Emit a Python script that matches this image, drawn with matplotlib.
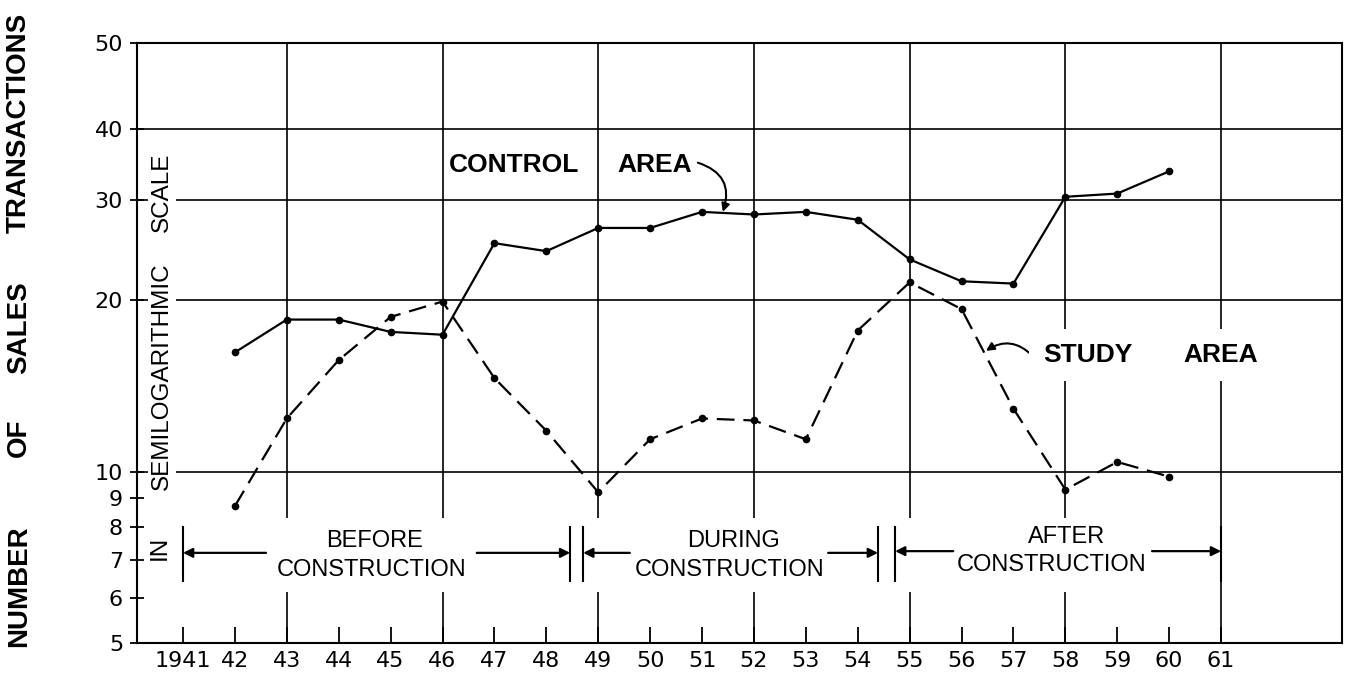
import numpy as np
import matplotlib.pyplot as plt
from matplotlib.ticker import FixedLocator, FixedFormatter, NullLocator

# sales transactions, 1942-1960
years = np.arange(1942, 1961)
control = [16.2, 18.5, 18.5, 17.6, 17.4, 25.2, 24.4, 26.8, 26.8, 28.6,
           28.3, 28.6, 27.7, 23.6, 21.6, 21.4, 30.4, 30.8, 33.7]
study = [8.7, 12.4, 15.7, 18.7, 19.9, 14.6, 11.8, 9.2, 11.4, 12.4,
         12.3, 11.4, 17.7, 21.5, 19.3, 12.9, 9.3, 10.4, 9.8]

tick_years = list(range(1941, 1962))
tick_labels = ["1941"] + [str(y)[2:] for y in tick_years[1:]]
y_ticks = [5, 6, 7, 8, 9, 10, 20, 30, 40, 50]
grid_years = [1943, 1946, 1949, 1952, 1955, 1958]
grid_values = [10, 20, 30, 40]

# construction periods
period_words = ["BEFORE", "DURING", "AFTER"]
period_left = [1941.0, 1948.71, 1954.72]
period_right = [1948.46, 1954.39, 1961.0]
tail_left = [1942.6, 1949.61, 1955.84]
tail_right = [1946.66, 1953.43, 1959.67]
word_x = [1944.70, 1951.60, 1958.03]
constr_x = [1944.64, 1951.54, 1957.74]
word_y = [7.55, 7.55, 7.69]
constr_y = [6.72, 6.72, 6.85]
arrow_y = [7.2, 7.2, 7.25]

# the printed scale is logarithmic up to 40, the top band 40-50 is stretched
LOG40 = np.log10(40)
K = 0.151


def fwd(v):
    v = np.asarray(v, dtype=float)
    lv = np.log10(np.clip(v, 1e-6, None))
    return np.where(v <= 40, lv, LOG40 + (v - 40) / 10 * K)


def inv(u):
    u = np.asarray(u, dtype=float)
    return np.where(u <= LOG40, 10 ** np.minimum(u, 5), 40 + (u - LOG40) / K * 10)


plt.rcParams['font.family'] = ['DejaVu Sans']
fig = plt.figure(figsize=(13.46, 6.73), dpi=100)
ax = fig.add_axes([137 / 1346, 30 / 673, 1205 / 1346, 600 / 673])
ax.set_yscale('function', functions=(fwd, inv))
ax.set_xlim(1940.114, 1963.33)
ax.set_ylim(5, 50)

lw_grid = 1.2
for v in grid_values:
    ax.axhline(v, color='black', lw=lw_grid, zorder=1)
ax.vlines(grid_years, 8.3, 50, color='black', lw=lw_grid, zorder=1)
ax.vlines(grid_years, 5, 6.15, color='black', lw=lw_grid, zorder=1)
ax.vlines([1961], 5, 50, color='black', lw=lw_grid, zorder=1)

ax.plot(years, control, color='black', lw=1.6, marker='o', ms=4.5, zorder=3)
ax.plot(years, study, color='black', lw=1.6, ls=(0, (8, 4)), marker='o', ms=4.5, zorder=3)

for s in ax.spines.values():
    s.set_linewidth(1.5)

ax.xaxis.set_major_locator(FixedLocator(tick_years))
ax.xaxis.set_major_formatter(FixedFormatter(tick_labels))
ax.tick_params(axis='x', direction='in', length=11.5, width=1.3, pad=6, labelsize=16)
ax.yaxis.set_major_locator(FixedLocator(y_ticks))
ax.yaxis.set_major_formatter(FixedFormatter([str(v) for v in y_ticks]))
ax.yaxis.set_minor_locator(NullLocator())
ax.tick_params(axis='y', direction='inout', length=10, width=1.3, pad=5, labelsize=16)

# construction period bands
lab_font = dict(family='Liberation Sans', fontsize=17, ha='center', va='center', zorder=4)
for i in range(3):
    for xb in (period_left[i], period_right[i]):
        ax.vlines(xb, 6.4, 8.03, color='black', lw=1.5, zorder=2)
    ax.annotate('', xy=(period_left[i], arrow_y[i]), xytext=(tail_left[i], arrow_y[i]),
                arrowprops=dict(arrowstyle='-|>', color='black', lw=1.6, mutation_scale=14,
                                shrinkA=0, shrinkB=0))
    ax.annotate('', xy=(period_right[i], arrow_y[i]), xytext=(tail_right[i], arrow_y[i]),
                arrowprops=dict(arrowstyle='-|>', color='black', lw=1.6, mutation_scale=14,
                                shrinkA=0, shrinkB=0))
    ax.text(word_x[i], word_y[i], period_words[i], **lab_font)
    ax.text(constr_x[i], constr_y[i], "CONSTRUCTION", **lab_font)

# series labels
bold = dict(family='Liberation Sans', fontweight='bold', fontsize=19, va='center', ha='left', zorder=4)
ax.text(1946.12, 34.6, "CONTROL", **bold)
ax.text(1949.36, 34.6, "AREA", **bold)
ax.annotate('', xy=(1951.40, 28.6), xytext=(1950.92, 34.9),
            arrowprops=dict(arrowstyle='-|>', color='black', lw=1.5, mutation_scale=12,
                            shrinkA=0, shrinkB=0, connectionstyle='arc3,rad=-0.5'))
box = dict(facecolor='white', edgecolor='none', pad=10)
ax.text(1957.57, 16.0, "STUDY", bbox=box, **bold)
ax.text(1960.27, 16.0, "AREA", bbox=box, **bold)
ax.annotate('', xy=(1956.47, 16.3), xytext=(1957.36, 16.0),
            arrowprops=dict(arrowstyle='-|>', color='black', lw=1.5, mutation_scale=12,
                            shrinkA=0, shrinkB=0, connectionstyle='arc3,rad=0.4'))

# axis title pieces
fig.text(162 / 1346, 1 - 192 / 673, "SCALE", bbox=dict(facecolor='white', edgecolor='none', pad=2),
         family='Liberation Sans', fontsize=17.5, rotation=90, ha='center', va='center', zorder=4)
fig.text(162 / 1346, 1 - 376 / 673, "SEMILOGARITHMIC", bbox=dict(facecolor='white', edgecolor='none', pad=2),
         family='Liberation Sans', fontsize=17.5, rotation=90, ha='center', va='center', zorder=4)
fig.text(160 / 1346, 1 - 548 / 673, "IN",
         family='Liberation Sans', fontsize=17.5, rotation=90, ha='center', va='center', zorder=4)

for word, yc in [("TRANSACTIONS", 123), ("SALES", 328), ("OF", 438), ("NUMBER", 586)]:
    fig.text(19 / 1346, 1 - yc / 673, word, family='Liberation Sans', fontweight='bold',
             fontsize=20, rotation=90, ha='center', va='center')

fig.savefig('out.png', dpi=100)
